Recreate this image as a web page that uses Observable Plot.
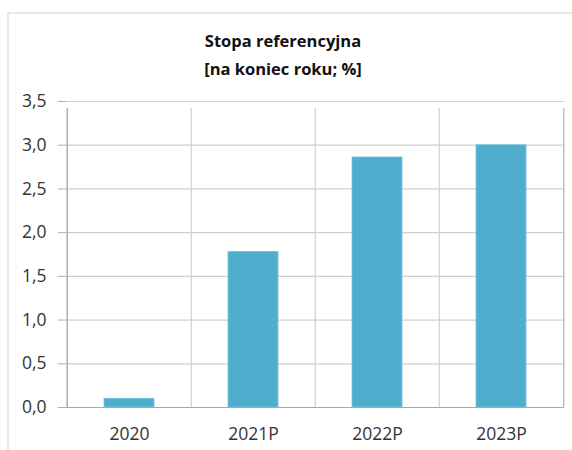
<!DOCTYPE html>
<html>
<head>
<meta charset="utf-8">
<script src="https://cdn.jsdelivr.net/npm/d3@7"></script>
<script src="https://cdn.jsdelivr.net/npm/@observablehq/plot@0.6"></script>
<style>
  body { margin: 0; background: #fff; font-family: "Open Sans", sans-serif; }
  #wrap { position: relative; width: 572px; height: 450px; overflow: hidden; }
  #frame { position: absolute; left: 7px; top: 12px; width: 600px; height: 500px;
           border-left: 2px solid #e8e8e8; border-top: 2px solid #e8e8e8; }
  #title { position: relative; height: 75px; width: 572px; }
  #title div { position: absolute; left: 0; width: 566px; text-align: center;
               font-weight: 700; font-size: 16.5px; color: #111; }
  #chart { position: relative; }
</style>
</head>
<body>
<div id="wrap">
  <div id="frame"></div>
  <div id="title">
    <div style="top:29px">Stopa referencyjna</div>
    <div style="top:57px">[na koniec roku; %]</div>
  </div>
  <div id="chart"></div>
</div>
<script>
const categories = ["2020", "2021P", "2022P", "2023P"];
const values = [0.1, 1.78, 2.86, 3.0];
const yTicks = [0, 0.5, 1.0, 1.5, 2.0, 2.5, 3.0, 3.5];

const data = categories.map((c, i) => ({category: c, value: values[i]}));

const W = 572, ML = 66, MR = 8;
const step = (W - ML - MR) / categories.length;

const plot = Plot.plot({
  width: W,
  height: 375,
  marginLeft: ML,
  marginRight: MR,
  marginTop: 26,
  marginBottom: 43,
  style: { fontFamily: "Open Sans, sans-serif", fontSize: "17px", color: "#333", background: "transparent" },
  x: { domain: categories, paddingInner: 0.6, paddingOuter: 0.3, label: null },
  y: { domain: [0, 3.5], label: null },
  marks: [
    Plot.ruleY(yTicks, { stroke: "#d0d0d0", strokeWidth: 1.2 }),
    Plot.ruleX(categories, { y1: 0, y2: 3.5, dx: -step / 2, stroke: "#d0d0d0", strokeWidth: 1.2, insetBottom: -7 }),
    Plot.ruleX([categories[categories.length - 1]], { y1: 0, y2: 3.5, dx: step / 2, stroke: "#c0c0c0", strokeWidth: 1.5, insetBottom: -7 }),
    Plot.ruleX([categories[0]], { y1: 0, y2: 3.5, dx: -step / 2, stroke: "#a8a8a8", strokeWidth: 1.2, insetBottom: -7 }),
    Plot.barY(data, { x: "category", y: "value", fill: "#4FADCD", stroke: "#7cc4dc", strokeWidth: 0.8 }),
    Plot.ruleY([0], { stroke: "#a8a8a8", strokeWidth: 1.2 }),
    Plot.axisY({
      ticks: yTicks,
      tickSize: 8,
      tickPadding: 12,
      stroke: "#b0b0b0",
      tickFormat: d => d.toFixed(1).replace(".", ","),
      fill: "#333",
      fontSize: 17.5
    }),
    Plot.axisX({
      tickSize: 0,
      tickPadding: 20,
      fill: "#333",
      fontSize: 17.5
    })
  ]
});
document.getElementById("chart").appendChild(plot);
</script>
</body>
</html>
